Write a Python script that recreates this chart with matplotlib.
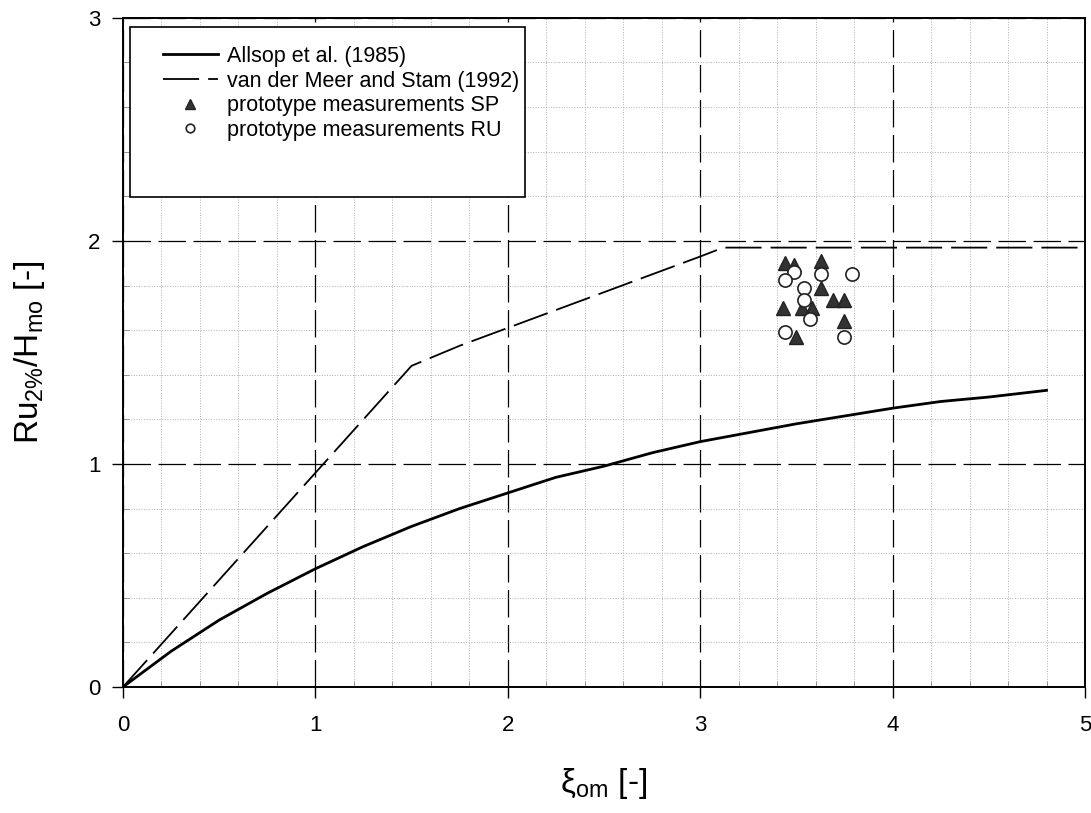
import matplotlib.pyplot as plt
from matplotlib.patches import Rectangle
from matplotlib.ticker import MultipleLocator

plt.rcParams['font.family'] = ['Liberation Sans', 'DejaVu Sans']
plt.rcParams['mathtext.fontset'] = 'custom'
plt.rcParams['mathtext.rm'] = 'Liberation Sans'
plt.rcParams['mathtext.it'] = 'Liberation Sans:italic'

# Allsop et al. (1985)
allsop_x = [0, 0.25, 0.5, 0.75, 1.0, 1.25, 1.5, 1.75, 2.0, 2.25, 2.5, 2.75,
            3.0, 3.25, 3.5, 3.75, 4.0, 4.25, 4.5, 4.8]
allsop_y = [0, 0.16, 0.30, 0.42, 0.53, 0.63, 0.72, 0.80, 0.87, 0.94, 0.99, 1.05,
            1.10, 1.14, 1.18, 1.215, 1.25, 1.28, 1.30, 1.33]

# van der Meer and Stam (1992)
vdm_x = [0, 1.5, 1.75, 2.0, 2.25, 2.5, 2.75, 3.0, 3.12, 5.0]
vdm_y = [0, 1.44, 1.53, 1.61, 1.69, 1.77, 1.85, 1.93, 1.97, 1.97]

# prototype measurements SP
sp_x = [3.44, 3.49, 3.63, 3.63, 3.43, 3.53, 3.58, 3.69, 3.75, 3.75, 3.50]
sp_y = [1.90, 1.89, 1.91, 1.79, 1.70, 1.70, 1.70, 1.735, 1.735, 1.64, 1.57]

# prototype measurements RU
ru_x = [3.49, 3.44, 3.63, 3.79, 3.54, 3.54, 3.57, 3.44, 3.75]
ru_y = [1.86, 1.825, 1.85, 1.85, 1.79, 1.735, 1.65, 1.59, 1.57]

fig = plt.figure(figsize=(10.91, 8.13), dpi=100)
ax = fig.add_axes([0.1127, 0.155, 0.8818, 0.823])

ax.plot(allsop_x, allsop_y, color='black', lw=2.0, label='Allsop et al. (1985)')
ax.plot(vdm_x, vdm_y, color='black', lw=1.3, dashes=(20, 5),
        label='van der Meer and Stam (1992)')
ax.plot(sp_x, sp_y, ls='none', marker='^', ms=10, color='#333333',
        mec='#222222', label='prototype measurements SP')
ax.plot(ru_x, ru_y, ls='none', marker='o', ms=9.5, mfc='white', mec='#222222',
        mew=1.2, label='prototype measurements RU')

ax.set_xlim(0, 5)
ax.set_ylim(0, 3)
ax.xaxis.set_major_locator(MultipleLocator(1))
ax.yaxis.set_major_locator(MultipleLocator(1))
ax.xaxis.set_minor_locator(MultipleLocator(0.2))
ax.yaxis.set_minor_locator(MultipleLocator(0.2))

ax.grid(which='major', color='black', lw=0.9, dashes=(22, 6))
ax.grid(which='minor', color='#b0b0b0', lw=0.7, ls=':')
ax.set_axisbelow(True)

ax.tick_params(which='major', direction='out', length=8, width=1, labelsize=16, pad=8)
ax.tick_params(which='minor', direction='in', length=4, width=0.6, color='#888888')
ax.tick_params(axis='x', which='major', pad=12)

for s in ax.spines.values():
    s.set_linewidth(1.4)

ax.set_xlabel('ξ$_{\\mathrm{om}}$ [-]', fontsize=24, labelpad=22)
ax.set_ylabel('Ru$_{2\\%}$/H$_{\\mathrm{mo}}$ [-]', fontsize=24, labelpad=30)

# legend box drawn separately (it has extra room at the bottom)
box = Rectangle((0.0073, 0.7324), 0.4106, 0.2541, transform=ax.transAxes,
                facecolor='white', edgecolor='black', lw=1.2, zorder=4)
ax.add_patch(box)
leg = ax.legend(loc='upper left', fontsize=15.5, handlelength=2.55, handletextpad=0.42,
                markerscale=0.65, frameon=False, borderpad=0, borderaxespad=0,
                labelspacing=0.17, bbox_to_anchor=(0.0416, 0.958))
leg.set_zorder(5)

fig.savefig('out.png', dpi=100)
